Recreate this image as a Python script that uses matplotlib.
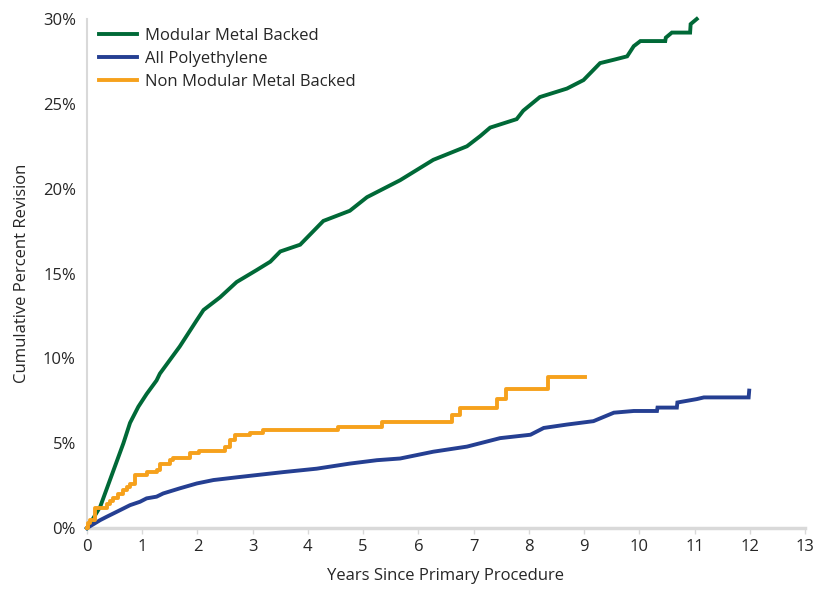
import matplotlib
matplotlib.use("Agg")
import matplotlib.pyplot as plt
from matplotlib.ticker import FuncFormatter, MultipleLocator

plt.rcParams['font.family'] = ['Open Sans', 'DejaVu Sans']

# Modular Metal Backed
mmb_x = [0, 0.1, 0.24, 0.48, 0.66, 0.78, 0.93, 1.08, 1.26, 1.32, 1.68, 1.99, 2.11,
         2.41, 2.71, 3.07, 3.32, 3.5, 3.86, 4.28, 4.76, 5.07, 5.43, 5.67, 5.97,
         6.27, 6.88, 7.12, 7.3, 7.78, 7.9, 8.2, 8.69, 8.99, 9.17, 9.29, 9.54,
         9.78, 9.9, 10.02, 10.47, 10.48, 10.59, 10.92, 10.93, 11.04]
mmb_y = [0, 0.5, 1.26, 3.4, 5.0, 6.2, 7.15, 7.9, 8.7, 9.1, 10.7, 12.26, 12.85,
         13.6, 14.5, 15.2, 15.7, 16.3, 16.7, 18.1, 18.7, 19.5, 20.1, 20.5, 21.1,
         21.7, 22.5, 23.1, 23.6, 24.1, 24.6, 25.4, 25.9, 26.4, 27.0, 27.4, 27.6,
         27.8, 28.4, 28.7, 28.7, 28.9, 29.2, 29.2, 29.7, 30.0]

# All Polyethylene
ape_x = [0, 0.24, 0.36, 0.54, 0.78, 0.96, 1.08, 1.26, 1.38, 1.68, 1.99, 2.29,
         2.71, 3.01, 3.56, 4.16, 4.76, 5.25, 5.67, 5.97, 6.27, 6.88, 7.24, 7.48,
         8.03, 8.27, 8.69, 9.17, 9.54, 9.9, 10.32, 10.33, 10.68, 10.69, 11.04,
         11.17, 11.98, 11.99]
ape_y = [0, 0.47, 0.67, 0.96, 1.35, 1.55, 1.75, 1.85, 2.04, 2.34, 2.63, 2.83,
         2.99, 3.1, 3.3, 3.5, 3.8, 4.0, 4.1, 4.3, 4.5, 4.8, 5.1, 5.3,
         5.5, 5.9, 6.1, 6.3, 6.8, 6.9, 6.9, 7.1, 7.1, 7.4, 7.6,
         7.7, 7.7, 8.1]

# Non Modular Metal Backed (step curve)
nmmb_x = [0, 0.02, 0.05, 0.145, 0.36, 0.42, 0.48, 0.57, 0.66, 0.72, 0.78, 0.87,
          1.08, 1.26, 1.32, 1.5, 1.56, 1.84, 1.87, 2.02, 2.47, 2.5, 2.59, 2.68,
          2.95, 3.19, 4.55, 5.34, 6.61, 6.76, 7.42, 7.59, 8.34, 9.02]
nmmb_y = [0, 0.27, 0.5, 1.16, 1.4, 1.6, 1.75, 2.0, 2.25, 2.4, 2.6, 3.1,
          3.3, 3.45, 3.8, 4.0, 4.1, 4.1, 4.4, 4.55, 4.55, 4.8, 5.2, 5.5,
          5.6, 5.8, 5.97, 6.26, 6.66, 7.05, 7.58, 8.17, 8.9, 8.9]

series_names = ["Modular Metal Backed", "All Polyethylene", "Non Modular Metal Backed"]
colors = ["#006937", "#253F92", "#F6A11C"]

FS = 12
TXT = "#262626"

fig = plt.figure(figsize=(8.15, 5.94), dpi=100)
ax = fig.add_axes([0.1067, 0.111, 0.881, 0.857])

ax.plot(mmb_x, mmb_y, color=colors[0], lw=2.8, label=series_names[0],
        solid_joinstyle='miter', clip_on=False)
ax.plot(ape_x, ape_y, color=colors[1], lw=2.8, label=series_names[1],
        solid_joinstyle='miter', clip_on=False)
ax.plot(nmmb_x, nmmb_y, color=colors[2], lw=2.8, label=series_names[2],
        drawstyle='steps-post', clip_on=False)

ax.set_xlim(0, 13)
ax.set_ylim(0, 30)
ax.xaxis.set_major_locator(MultipleLocator(1))
ax.yaxis.set_major_locator(MultipleLocator(5))
ax.yaxis.set_major_formatter(FuncFormatter(lambda v, p: f"{int(round(v))}%"))

for s in ["top", "right"]:
    ax.spines[s].set_visible(False)
ax.spines["left"].set_color("#d9d9d9")
ax.spines["left"].set_linewidth(1.5)
ax.spines["bottom"].set_color("#d9d9d9")
ax.spines["bottom"].set_linewidth(2.5)
ax.spines["left"].set_zorder(0)
ax.spines["bottom"].set_zorder(0)

ax.tick_params(axis='y', length=0, pad=8, labelsize=FS, labelcolor=TXT)
ax.tick_params(axis='x', length=4, width=1, color="#d9d9d9", pad=4, labelsize=FS,
               labelcolor=TXT)

ax.set_xlabel("Years Since Primary Procedure", fontsize=FS, color=TXT, labelpad=9)
ax.set_ylabel("Cumulative Percent Revision", fontsize=FS, color=TXT, labelpad=9)

ax.legend(loc="upper left", frameon=False, fontsize=FS, handlelength=2.3,
          handletextpad=0.5, labelspacing=0.42, borderaxespad=0.0,
          bbox_to_anchor=(0.007, 0.995), labelcolor=TXT)

fig.savefig("out.png", dpi=100)
